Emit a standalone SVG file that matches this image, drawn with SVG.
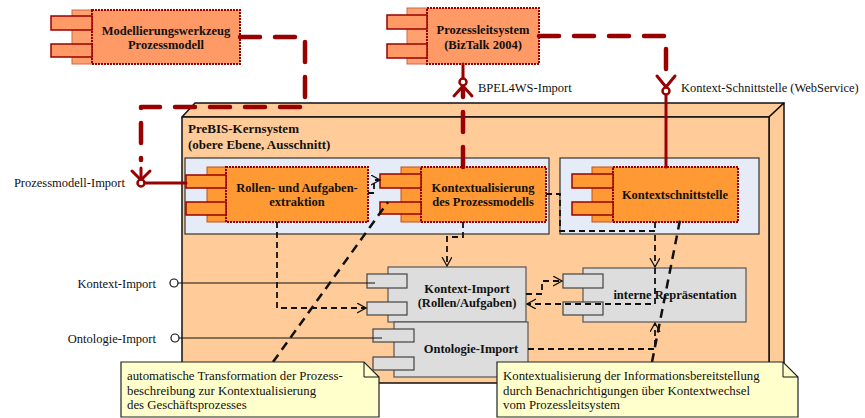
<svg xmlns="http://www.w3.org/2000/svg" width="865" height="418" viewBox="0 0 865 418">
<defs>
<style>
.bold{font-family:"Liberation Serif","Times New Roman",serif;font-weight:bold;fill:#111;text-anchor:middle}
.lbl{font-family:"Liberation Serif","Times New Roman",serif;font-size:12.5px;fill:#111}
.note{font-family:"Liberation Serif","Times New Roman",serif;font-size:12.8px;fill:#111}
.m1{fill:#FF9966;stroke:#990000;stroke-width:2;stroke-dasharray:2 1}
.b1{fill:#FFA070;stroke:#D06848;stroke-width:1}
.t1{fill:#FF9966;stroke:#990000;stroke-width:1.5}
.m2{fill:#FF9933;stroke:#990000;stroke-width:2;stroke-dasharray:2 1}
.b2{fill:#FF9933;stroke:#C05020;stroke-width:1}
.t2{fill:#FF9933;stroke:#990000;stroke-width:1.5}
.mg{fill:#DDDDDD;stroke:#555;stroke-width:1.2}
.tg{fill:#DDDDDD;stroke:#444;stroke-width:1.2}
.node3d{fill:#FFCC99;stroke:#111;stroke-width:1.5;stroke-linejoin:round}
.pkg{fill:#E6ECF7;stroke:#333;stroke-width:1.2}
.dep{fill:none;stroke:#990000;stroke-width:4.5;stroke-dasharray:20 15;stroke-linecap:round;stroke-linejoin:round}
.red{fill:none;stroke:#990000;stroke-width:3;stroke-linecap:round;stroke-linejoin:round}
.ball{fill:#fff;stroke:#990000;stroke-width:2.5}
.dash{fill:none;stroke:#111;stroke-width:1.8;stroke-dasharray:6 4}
.anchor{fill:none;stroke:#111;stroke-width:2.5;stroke-dasharray:9 6}
.thin{fill:none;stroke:#111;stroke-width:1}
.lol{fill:#fff;stroke:#111;stroke-width:1.2}
.notebox{fill:#FFFFCC;stroke:#222;stroke-width:1.2}
</style>
<marker id="open" markerUnits="userSpaceOnUse" markerWidth="12" markerHeight="12" refX="9" refY="5" orient="auto">
<path d="M0,0 L9,5 L0,10" fill="none" stroke="#111" stroke-width="1.3"/>
</marker>
</defs>
<rect width="865" height="418" fill="#fff"/>

<g id="prebis">
<polygon class="node3d" points="182,117 195,103 784,103 769,117"/>
<polygon class="node3d" points="769,117 784,103 784,369 769,383"/>
<rect class="node3d" x="182" y="117" width="587" height="266"/>
<text class="bold" x="188" y="133" font-size="13" style="text-anchor:start">PreBIS-Kernsystem</text>
<text class="bold" x="188" y="149" font-size="13" style="text-anchor:start">(obere Ebene, Ausschnitt)</text>
<rect class="pkg" x="185" y="158" width="364" height="76"/>
<rect class="pkg" x="560" y="158" width="199" height="76"/>
</g>

<g id="modellierungswerkzeug">
<rect class="b1" x="72" y="10" width="20" height="54"/>
<rect class="m1" x="92" y="10" width="148" height="54"/>
<rect class="t1" x="51" y="16" width="41" height="14"/>
<rect class="t1" x="51" y="44" width="41" height="13"/>
<text class="bold" x="166" y="35" font-size="12.5">Modellierungswerkzeug</text>
<text class="bold" x="166" y="49" font-size="12.5">Prozessmodell</text>
</g>

<g id="prozessleitsystem">
<rect class="b1" x="407" y="8" width="20" height="56"/>
<rect class="m1" x="427" y="8" width="112" height="56"/>
<rect class="t1" x="387" y="15" width="40" height="14"/>
<rect class="t1" x="387" y="44" width="40" height="14"/>
<text class="bold" x="483" y="34" font-size="12.5">Prozessleitsystem</text>
<text class="bold" x="483" y="49" font-size="12.5">(BizTalk 2004)</text>
</g>

<g id="rollen">
<rect class="b2" x="207" y="167" width="19" height="55"/>
<rect class="m2" x="226" y="167" width="142" height="55"/>
<rect class="t2" x="186" y="175" width="40" height="13"/>
<rect class="t2" x="186" y="202" width="40" height="13"/>
<text class="bold" x="297" y="192" font-size="12.5">Rollen- und Aufgaben-</text>
<text class="bold" x="297" y="206" font-size="12.5">extraktion</text>
</g>

<g id="kontextualisierung">
<rect class="b2" x="401" y="167" width="20" height="55"/>
<rect class="m2" x="421" y="167" width="125" height="55"/>
<rect class="t2" x="380" y="174" width="41" height="14"/>
<rect class="t2" x="380" y="202" width="41" height="12"/>
<text class="bold" x="483" y="192" font-size="12.5">Kontextualisierung</text>
<text class="bold" x="483" y="206" font-size="12.5">des Prozessmodells</text>
</g>

<g id="kontextschnittstelle">
<rect class="b2" x="592" y="167" width="21" height="55"/>
<rect class="m2" x="613" y="167" width="125" height="55"/>
<rect class="t2" x="572" y="174" width="41" height="14"/>
<rect class="t2" x="572" y="202" width="41" height="13"/>
<text class="bold" x="675" y="199" font-size="12.5">Kontextschnittstelle</text>
</g>

<g id="kontext-import">
<rect class="mg" x="388" y="267" width="138" height="55"/>
<rect class="tg" x="367" y="274" width="40" height="14"/>
<rect class="tg" x="367" y="302" width="40" height="13"/>
<text class="bold" x="467" y="293" font-size="12.5">Kontext-Import</text>
<text class="bold" x="467" y="307" font-size="12.5">(Rollen/Aufgaben)</text>
</g>

<g id="ontologie-import">
<rect class="mg" x="394" y="322" width="134" height="55"/>
<rect class="tg" x="373" y="329" width="41" height="13"/>
<rect class="tg" x="373" y="357" width="41" height="13"/>
<text class="bold" x="471" y="353" font-size="12.5">Ontologie-Import</text>
</g>

<g id="interne-repraesentation">
<rect class="mg" x="583" y="268" width="163" height="54"/>
<rect class="tg" x="563" y="274" width="40" height="14"/>
<rect class="tg" x="563" y="302" width="40" height="13"/>
<text class="bold" x="675" y="299" font-size="12.5">interne Repräsentation</text>
</g>

<g id="connectors">
<path class="dep" d="M240,37 H305 V107 H141 V160"/>
<line class="red" x1="141" y1="168" x2="141" y2="178"/>
<polyline class="red" points="132,171 141,180 150,171"/>
<line class="red" x1="145" y1="183" x2="186" y2="183"/>
<circle class="ball" cx="141" cy="183" r="3.5"/>
<text class="lbl" x="125" y="187" text-anchor="end">Prozessmodell-Import</text>

<line class="red" x1="463" y1="64" x2="463" y2="79"/>
<path class="dep" d="M463,167 V90"/>
<polyline class="red" points="454,96 463,86 472,96"/>
<circle class="ball" cx="463" cy="82" r="3.5"/>
<text class="lbl" x="478" y="92">BPEL4WS-Import</text>

<path class="dep" d="M539,36 H666 V80"/>
<polyline class="red" points="657,76 666,87 675,76"/>
<line class="red" x1="666" y1="95" x2="666" y2="167"/>
<circle class="ball" cx="666" cy="91" r="3.5"/>
<text class="lbl" x="681" y="92">Kontext-Schnittstelle (WebService)</text>

<line class="thin" x1="178" y1="283" x2="375" y2="283"/>
<circle class="lol" cx="174" cy="283" r="4"/>
<text class="lbl" x="156" y="288" text-anchor="end">Kontext-Import</text>
<line class="thin" x1="179" y1="338" x2="382" y2="338"/>
<circle class="lol" cx="175" cy="338" r="4"/>
<text class="lbl" x="156" y="343" text-anchor="end">Ontologie-Import</text>

<path class="dash" d="M277,222 V308 H366" marker-end="url(#open)"/>
<path class="dash" d="M368,193 H374 V180 H380" marker-end="url(#open)"/>
<path class="dash" d="M463,222 V237 H447 V266" marker-end="url(#open)"/>
<path class="dash" d="M546,194 H560 V231 H655 V267" marker-end="url(#open)"/>
<path class="dash" d="M655,222 V231"/>
<path class="dash" d="M655,268 V304 H527" marker-end="url(#open)"/>
<path class="dash" d="M526,294 H542 V281 H562" marker-end="url(#open)"/>
<path class="dash" d="M528,349 H655 V323" marker-end="url(#open)"/>

<path class="anchor" d="M273,362 L388,202"/>
<path class="anchor" d="M652,362 L681,215"/>
</g>

<g id="note-transformation">
<path class="notebox" d="M121,362 H364 L379,377 V417 H121 Z"/>
<path class="thin" d="M364,362 V377 H379"/>
<text class="note" x="127" y="380">automatische Transformation der Prozess-</text>
<text class="note" x="127" y="395">beschreibung zur Kontextualisierung</text>
<text class="note" x="127" y="409">des Geschäftsprozesses</text>
</g>

<g id="note-kontextualisierung">
<path class="notebox" d="M497,362 H783 L798,377 V417 H497 Z"/>
<path class="thin" d="M783,362 V377 H798"/>
<text class="note" x="503" y="380">Kontextualisierung der Informationsbereitstellung</text>
<text class="note" x="503" y="395">durch Benachrichtigungen über Kontextwechsel</text>
<text class="note" x="503" y="409">vom Prozessleitsystem</text>
</g>
</svg>
